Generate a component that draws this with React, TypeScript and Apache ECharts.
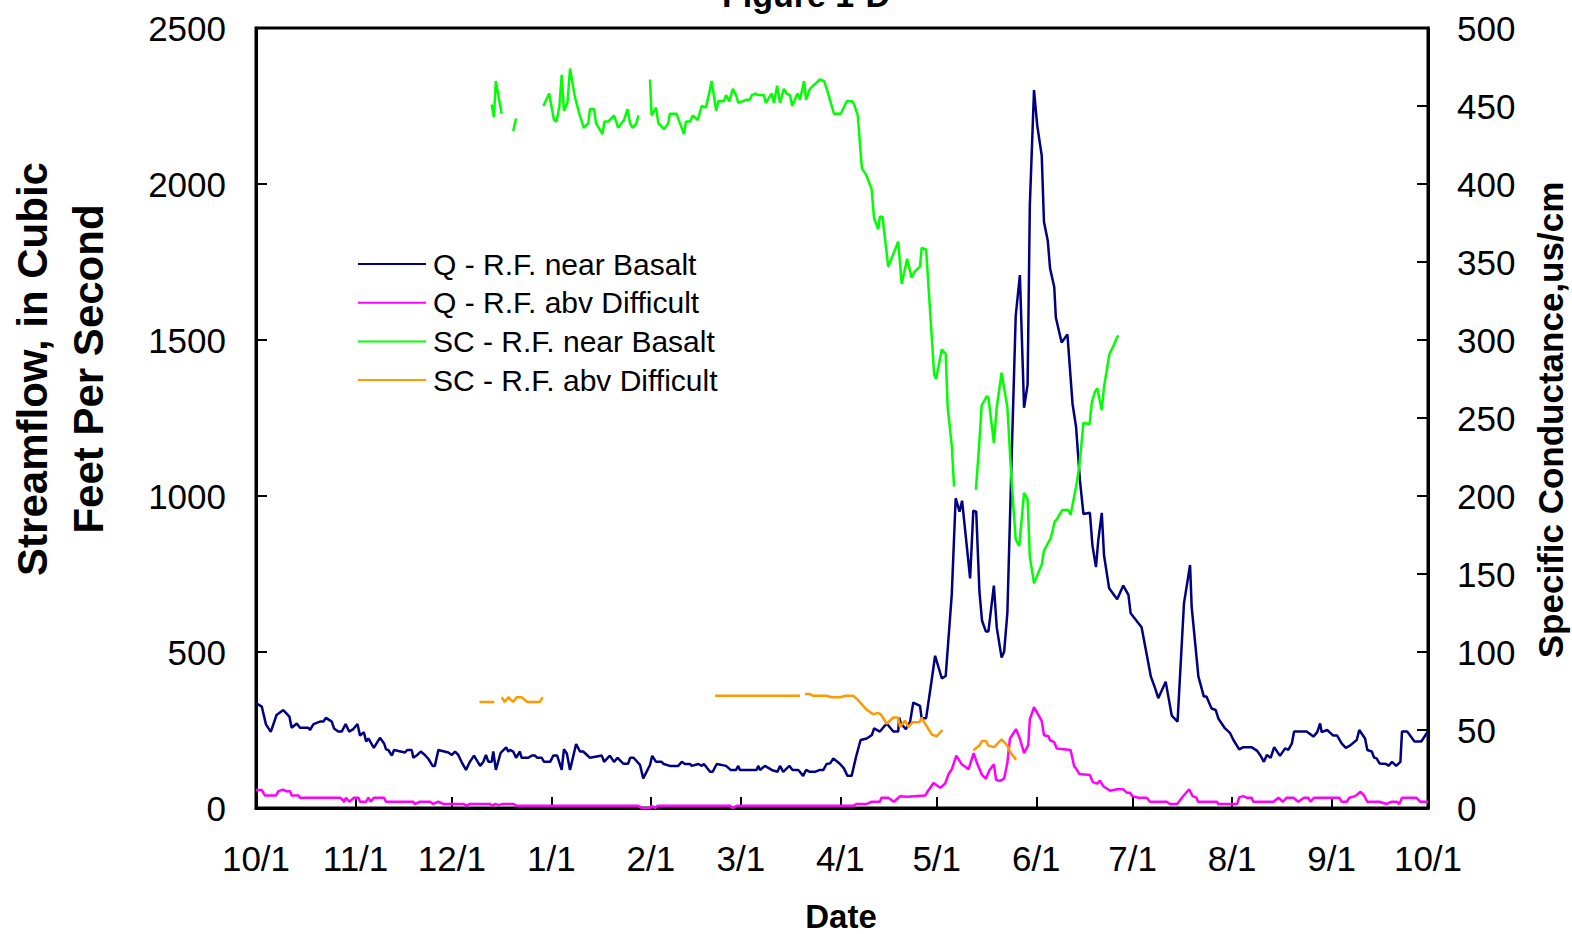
import React, { useEffect, useRef } from "react";
import * as echarts from "echarts";

// Water year: day 0 = 10/1, day 365 = the following 10/1
const monthLengths = [31, 30, 31, 31, 28, 31, 30, 31, 30, 31, 31, 30];
const monthLabels = ["10/1", "11/1", "12/1", "1/1", "2/1", "3/1", "4/1", "5/1", "6/1", "7/1", "8/1", "9/1", "10/1"];
const monthStarts = monthLengths.reduce<number[]>((acc, n) => {
  acc.push(acc[acc.length - 1] + n);
  return acc;
}, [0]);

const seriesNames = ["Q - R.F. near Basalt", "Q - R.F. abv Difficult", "SC - R.F. near Basalt", "SC - R.F. abv Difficult"];

// [day of water year, streamflow cfs]
const qBasalt: [number, number][] = [
  [0, 336], [1.8, 325], [3.1, 268], [4.6, 244], [6.4, 298], [8.5, 314], [10.4, 293], [11.1, 257], [12.7, 271], [13.7, 257],
  [16.3, 257], [16.8, 250], [17.9, 269], [19.9, 277], [21, 277], [21.8, 289], [23.6, 277], [24.3, 255], [25.6, 245], [26.7, 245],
  [27.9, 269], [29, 245], [30.3, 253], [31.6, 269], [32.4, 232], [33.6, 243], [34.3, 213], [35, 223], [36.7, 193], [38.6, 225],
  [39.9, 207], [40.5, 188], [41.2, 186], [42.3, 168], [43, 186], [46.4, 178], [47.1, 186], [48.5, 186], [49, 161], [50, 168],
  [51.3, 181], [52.6, 170], [53.7, 157], [55, 135], [55.7, 135], [56.8, 186], [59.9, 178], [61, 170], [62, 181], [63, 170],
  [64, 148], [65.4, 122], [66.6, 148], [67.9, 168], [69.8, 135], [70.8, 148], [71.6, 170], [72.4, 148], [73.4, 148], [73.9, 181],
  [74.7, 122], [76.2, 177], [77.9, 194], [78.6, 181], [79.1, 186], [80.1, 181], [81, 161], [82.2, 181], [82.7, 161], [84.8, 161],
  [85.9, 168], [86.9, 168], [87.6, 161], [89, 161], [89.7, 148], [91.6, 148], [92.6, 168], [93.8, 168], [95.2, 122], [95.9, 188],
  [96.8, 175], [97.8, 122], [99.7, 205], [100.9, 181], [101.9, 181], [104, 161], [107.7, 168], [108.4, 148], [110.2, 168], [111.5, 148],
  [112.6, 161], [114.4, 142], [115.9, 142], [116.5, 161], [117.6, 161], [119.6, 138], [120.6, 95], [122.7, 138], [123.4, 167], [124.6, 148],
  [126.3, 148], [127, 141], [128.9, 135], [131.5, 135], [132.6, 148], [133.6, 141], [135.2, 141], [135.7, 135], [137.8, 141], [138.8, 135],
  [139.5, 141], [141.4, 116], [142.2, 116], [143.5, 141], [146.4, 135], [147.8, 122], [149.5, 122], [150.2, 135], [150.7, 122], [155.9, 122],
  [156.4, 135], [157, 122], [158.5, 135], [160.6, 122], [162.4, 116], [163.2, 135], [164.2, 116], [166.1, 135], [167.1, 122], [168.9, 122],
  [170.4, 103], [171.3, 122], [172.5, 116], [174.1, 116], [175.6, 122], [176.7, 122], [177.7, 141], [178.8, 143], [179.8, 159], [181.9, 141],
  [183.1, 127], [184.2, 103], [185.5, 103], [186.9, 165], [188.3, 218], [190.2, 223], [191.8, 234], [192.5, 255], [194.3, 245], [196.4, 271],
  [198.5, 245], [200, 245], [200.3, 290], [200.8, 271], [202.4, 253], [203.7, 276], [204.7, 338], [206.8, 327], [207.3, 288], [208.7, 288],
  [210.4, 408], [211.5, 488], [213.6, 415], [214.8, 423], [216.7, 687], [217.9, 993], [219.1, 950], [219.9, 985], [222.4, 736], [223.4, 953],
  [224.3, 950], [225.3, 694], [226.1, 601], [227.3, 566], [228.1, 566], [229.8, 713], [230.7, 578], [232.2, 482], [233, 501], [234, 625],
  [235.4, 1146], [236.6, 1577], [237.9, 1708], [239.2, 1283], [240.3, 1357], [241, 1933], [242.3, 2301], [243.3, 2188], [244.7, 2091], [245.4, 1879],
  [246.6, 1817], [247.3, 1729], [248.6, 1670], [249.1, 1572], [250.9, 1492], [252.7, 1518], [254.3, 1295], [255.4, 1221], [256.6, 1050], [257.7, 942],
  [259.7, 946], [260.5, 841], [261.6, 772], [262.3, 857], [263.4, 946], [264.1, 810], [265.7, 704], [268.2, 669], [270.1, 713], [271.7, 683],
  [272.4, 624], [275.8, 579], [278.7, 421], [280, 384], [281, 352], [283.3, 405], [285.2, 296], [287, 277], [289, 656], [290.9, 779],
  [291.4, 645], [293.5, 421], [295.2, 357], [296, 357], [297.6, 319], [298.9, 314], [299.7, 287], [301.8, 255], [303.3, 241], [304.4, 218],
  [306.2, 188], [307.5, 195], [310, 195], [311.7, 184], [312.7, 170], [313.9, 148], [314.8, 170], [316, 161], [317.1, 195], [318.9, 167],
  [320.5, 191], [321.5, 186], [322.6, 207], [323.3, 245], [327.2, 245], [329.3, 229], [330.5, 243], [331.4, 271], [331.9, 243], [333.6, 250],
  [335.5, 232], [336.7, 232], [338.1, 207], [339.4, 193], [340.7, 200], [342.8, 218], [343.6, 250], [345.4, 223], [346.1, 186], [347.5, 181],
  [348.2, 162], [349, 159], [349.9, 143], [352, 141], [352.7, 135], [353.8, 148], [355.1, 135], [356.4, 148], [356.9, 245], [358.5, 245],
  [360.8, 213], [362.9, 213], [364.7, 241], [365, 245],
];

// [day of water year, streamflow cfs]
const qDifficult: [number, number][] = [
  [0, 58], [1.8, 58], [2.8, 40], [6.2, 40], [7, 54], [8.5, 59], [9.3, 54], [10.6, 54], [11.1, 40], [13.2, 40],
  [13.7, 33], [26.2, 33], [27.5, 20], [28, 33], [29.1, 20], [30.5, 33], [31.9, 33], [32.4, 20], [34.3, 20], [35, 33],
  [35.7, 20], [36.7, 33], [39.9, 33], [40.5, 20], [49, 20], [49.5, 13], [51.1, 20], [54.2, 20], [55.2, 13], [56.8, 20],
  [58.3, 13], [64.6, 13], [65.6, 7], [66.6, 13], [72.9, 13], [73.7, 7], [74.4, 13], [75.5, 10], [77, 13], [80.1, 13],
  [81.2, 7], [119, 7], [120.1, 0], [122.7, 0], [123.2, 7], [124.3, 0], [125, 7], [147.6, 7], [148.4, 0], [149.7, 7],
  [186, 7], [187.1, 13], [190.2, 13], [191.8, 20], [194.3, 20], [194.8, 33], [196.9, 33], [198.7, 20], [200.6, 38], [202.7, 36],
  [208.4, 40], [209.4, 56], [211, 80], [213.1, 65], [214.6, 78], [215.7, 109], [216.7, 124], [218.1, 168], [219.8, 140], [221.9, 124],
  [223.5, 176], [224.7, 140], [226.1, 106], [227.3, 94], [228.4, 121], [229.8, 140], [230.5, 90], [231.7, 87], [233, 94], [234, 145],
  [234.8, 222], [236.7, 253], [237.9, 222], [239.2, 176], [240.5, 202], [241, 284], [242.3, 323], [244.7, 279], [245.4, 233], [246.8, 230],
  [247.3, 217], [248.6, 211], [249.4, 191], [253.7, 186], [254.8, 134], [255.6, 124], [256.4, 109], [259.7, 106], [260.6, 83], [262, 78],
  [262.8, 88], [263.9, 70], [266, 55], [268.1, 60], [270.1, 60], [271.2, 49], [272.2, 49], [272.9, 38], [274.8, 33], [277.4, 33],
  [278.4, 20], [283.6, 20], [284.6, 13], [286.9, 13], [288.6, 36], [290.6, 60], [291.7, 38], [292.9, 33], [293.4, 20], [299.2, 20],
  [299.7, 13], [305.6, 13], [306.2, 34], [307.5, 38], [308.5, 33], [310.1, 33], [310.6, 20], [316.9, 20], [318.4, 33], [319.8, 20],
  [321, 33], [323.1, 33], [324.6, 20], [326.4, 33], [327.7, 33], [328.4, 20], [329.5, 33], [337.4, 33], [338.1, 20], [339.7, 20],
  [340.5, 33], [342.3, 38], [344, 52], [345.1, 40], [346.1, 20], [349.9, 20], [352, 13], [353.8, 20], [355.3, 20], [356.1, 13],
  [356.9, 33], [361.3, 33], [362.6, 20], [365, 20],
];

// [day of water year, specific conductance]; null marks a break in the record
const scBasalt: [number, number | null][] = [
  [73.4, 451], [74.1, 443], [74.7, 466], [76.5, 445], [78, null],
  [80.1, 434], [81, 442], [85, null],
  [89.5, 450], [91.3, 458], [92.8, 441], [93.6, 440], [94.5, 450], [95.2, 470], [95.9, 447], [97, 452], [97.8, 474], [99.3, 456],
  [100.7, 445], [102.1, 436], [103.5, 439], [104, 448], [105.3, 448], [105.9, 439], [107.9, 432], [108.5, 440], [109.7, 440], [111.5, 444],
  [112.8, 436], [114.6, 441], [115.7, 448], [116.5, 439], [117.3, 436], [118.5, 439], [119.1, 444], [121, null],
  [122.7, 467], [123.2, 444], [124.6, 449], [125.3, 439], [127.1, 435], [128.4, 439], [128.9, 445], [131, 445], [132, 439], [133.3, 432],
  [133.9, 440], [135.2, 440], [136, 444], [137.6, 441], [138.8, 450], [140.1, 449], [140.9, 456], [141.9, 466], [143.3, 447], [144, 453],
  [145.7, 453], [146.4, 457], [147.4, 453], [148.5, 461], [149.5, 457], [150.2, 452], [152.8, 454], [153.8, 454], [154.4, 457], [155.7, 458],
  [156.1, 457], [158.2, 457], [158.8, 452], [160.6, 458], [161.3, 452], [162.3, 463], [163.2, 452], [164.4, 461], [165.3, 458], [166.3, 457],
  [167, 450], [168.6, 458], [169.4, 454], [170.7, 466], [171.3, 454], [172.5, 461], [175.6, 467], [176.9, 466], [177.9, 460], [180, 445],
  [182.1, 445], [184, 453], [185.7, 453], [186.3, 451], [187.4, 444], [188.7, 410], [190, 406], [191.7, 397], [192.5, 378], [193.8, 371],
  [194.3, 379], [195.1, 379], [196.9, 347], [200, 363], [201.1, 336], [202.8, 352], [204.2, 340], [205.2, 344], [206.8, 347], [207.3, 359],
  [208.7, 358], [211.2, 278], [211.8, 275], [213.6, 294], [214.8, 291], [215.4, 257], [216.7, 232], [217.4, 206], [220, null],
  [224.2, 204], [225.3, 235], [226, 258], [227.6, 264], [228.1, 263], [229.8, 234], [230.7, 257], [232.2, 279], [234, 257], [235.4, 207],
  [236.6, 172], [237.7, 168], [239.2, 202], [240.3, 198], [241, 161], [242.3, 144], [244.7, 156], [245.4, 165], [246.2, 168], [247.5, 173],
  [248.8, 184], [249.4, 185], [251.1, 191], [253, 191], [253.7, 188], [255.4, 206], [256.4, 219], [257.7, 247], [259.6, 246], [260.3, 260],
  [261.3, 267], [262, 269], [263.4, 255], [264.1, 270], [265.8, 291], [267.2, 297], [268, 301], [268.6, 303],
];

// [day of water year, specific conductance]; null marks a break in the record
const scDifficult: [number, number | null][] = [
  [69.6, 68], [74.2, 68], [75.3, null],
  [76.5, 71], [77.5, 68], [78.6, 71], [80.1, 68], [81.2, 71], [82.7, 71], [84.5, 68], [88.4, 68], [89.3, 71], [110, null],
  [143, 72], [169.4, 72], [170.2, null],
  [171, 73], [172.5, 73], [173.4, 72], [177.7, 72], [179.3, 71], [181.9, 71], [183.7, 72], [186, 72], [187.6, 69], [190.2, 63],
  [192.3, 60], [193.6, 61], [194.6, 60], [196.4, 54], [198.5, 58], [200, 58], [200.6, 52], [202.1, 56], [203.2, 52], [204.5, 55],
  [206.6, 55], [207.3, 58], [208.4, 54], [210.5, 47], [212, 46], [213.8, 50], [218, null],
  [223.4, 37], [225.3, 40], [226.1, 43], [227.3, 43], [228.1, 40], [229.9, 39], [232.2, 44], [234, 40], [234.8, 36], [236.7, 31],
];

const FONT = 'Arial, "Liberation Sans", Helvetica, sans-serif';

const toSeriesData = (pts: [number, number | null][]) =>
  pts.map(([d, v]) => (v === null ? [d, "-"] : [d, v]));

export default function App() {
  const ref = useRef<HTMLDivElement>(null);

  useEffect(() => {
    if (!ref.current) return;
    const chart = echarts.init(ref.current, null, { renderer: "svg" });

    const lineSeries = (name: string, data: any[], color: string, yAxisIndex: number) => ({
      name,
      type: "line",
      yAxisIndex,
      data,
      symbol: "none",
      showSymbol: false,
      connectNulls: false,
      lineStyle: { color, width: 2.5 },
      itemStyle: { color },
      emphasis: { disabled: true },
    });

    chart.setOption({
      animation: false,
      backgroundColor: "#ffffff",
      textStyle: { fontFamily: FONT },
      grid: {
        left: 256,
        right: 144,
        top: 28,
        bottom: 126,
        show: true,
        borderColor: "#000",
        borderWidth: 3,
        backgroundColor: "transparent",
      },
      legend: {
        orient: "vertical",
        left: 353,
        top: 244,
        itemWidth: 68,
        itemHeight: 20,
        itemGap: 8.7,
        icon: "path://M0,9 L68,9 L68,11 L0,11 Z",
        textStyle: { fontSize: 30, fontFamily: FONT, color: "#000", lineHeight: 30, padding: [0, 0, 0, 2] },
        data: seriesNames,
      },
      xAxis: {
        type: "value",
        min: 0,
        max: 365,
        splitLine: { show: false },
        axisLine: { lineStyle: { color: "#000", width: 3 } },
        axisTick: {
          inside: true,
          length: 11,
          lineStyle: { color: "#000", width: 2 },
          customValues: monthStarts,
        },
        axisLabel: {
          customValues: monthStarts,
          formatter: (v: number) => monthLabels[monthStarts.indexOf(Math.round(v))] ?? "",
          fontSize: 35,
          fontFamily: FONT,
          color: "#000",
          margin: 33,
        },
      },
      yAxis: [
        {
          type: "value",
          min: 0,
          max: 2500,
          interval: 500,
          position: "left",
          splitLine: { show: false },
          axisLine: { show: true, lineStyle: { color: "#000", width: 3 } },
          axisTick: { show: true, inside: true, length: 11, lineStyle: { color: "#000", width: 2 } },
          axisLabel: {
            fontSize: 35,
            fontFamily: FONT,
            color: "#000",
            margin: 30,
            formatter: (v: number) => String(v),
          },
        },
        {
          type: "value",
          min: 0,
          max: 500,
          interval: 50,
          position: "right",
          splitLine: { show: false },
          axisLine: { show: true, lineStyle: { color: "#000", width: 3 } },
          axisTick: { show: true, inside: true, length: 11, lineStyle: { color: "#000", width: 2 } },
          axisLabel: { fontSize: 35, fontFamily: FONT, color: "#000", margin: 29, formatter: (v: number) => String(v) },
        },
      ],
      graphic: [
        {
          type: "text",
          x: 806,
          y: -5,
          style: { text: "Figure 1-D", font: `bold 34px ${FONT}`, fill: "#000", align: "center", verticalAlign: "middle" },
        },
        {
          type: "text",
          x: 60,
          y: 369,
          rotation: Math.PI / 2,
          style: {
            text: "Streamflow, in Cubic\nFeet Per Second",
            font: `bold 42px ${FONT}`,
            lineHeight: 56,
            fill: "#000",
            align: "center",
            verticalAlign: "middle",
          },
        },
        {
          type: "text",
          x: 1550,
          y: 420,
          rotation: Math.PI / 2,
          style: {
            text: "Specific Conductance,us/cm",
            font: `bold 35px ${FONT}`,
            fill: "#000",
            align: "center",
            verticalAlign: "middle",
          },
        },
        {
          type: "text",
          x: 841,
          y: 916,
          style: { text: "Date", font: `bold 33px ${FONT}`, fill: "#000", align: "center", verticalAlign: "middle" },
        },
      ],
      series: [
        lineSeries(seriesNames[0], qBasalt, "#000080", 0),
        lineSeries(seriesNames[1], qDifficult, "#ff00ff", 0),
        lineSeries(seriesNames[2], toSeriesData(scBasalt), "#00ff00", 1),
        lineSeries(seriesNames[3], toSeriesData(scDifficult), "#ff9900", 1),
      ],
    });

    return () => chart.dispose();
  }, []);

  return <div ref={ref} style={{ position: "absolute", left: 0, top: 0, width: 1572, height: 934 }} />;
}
